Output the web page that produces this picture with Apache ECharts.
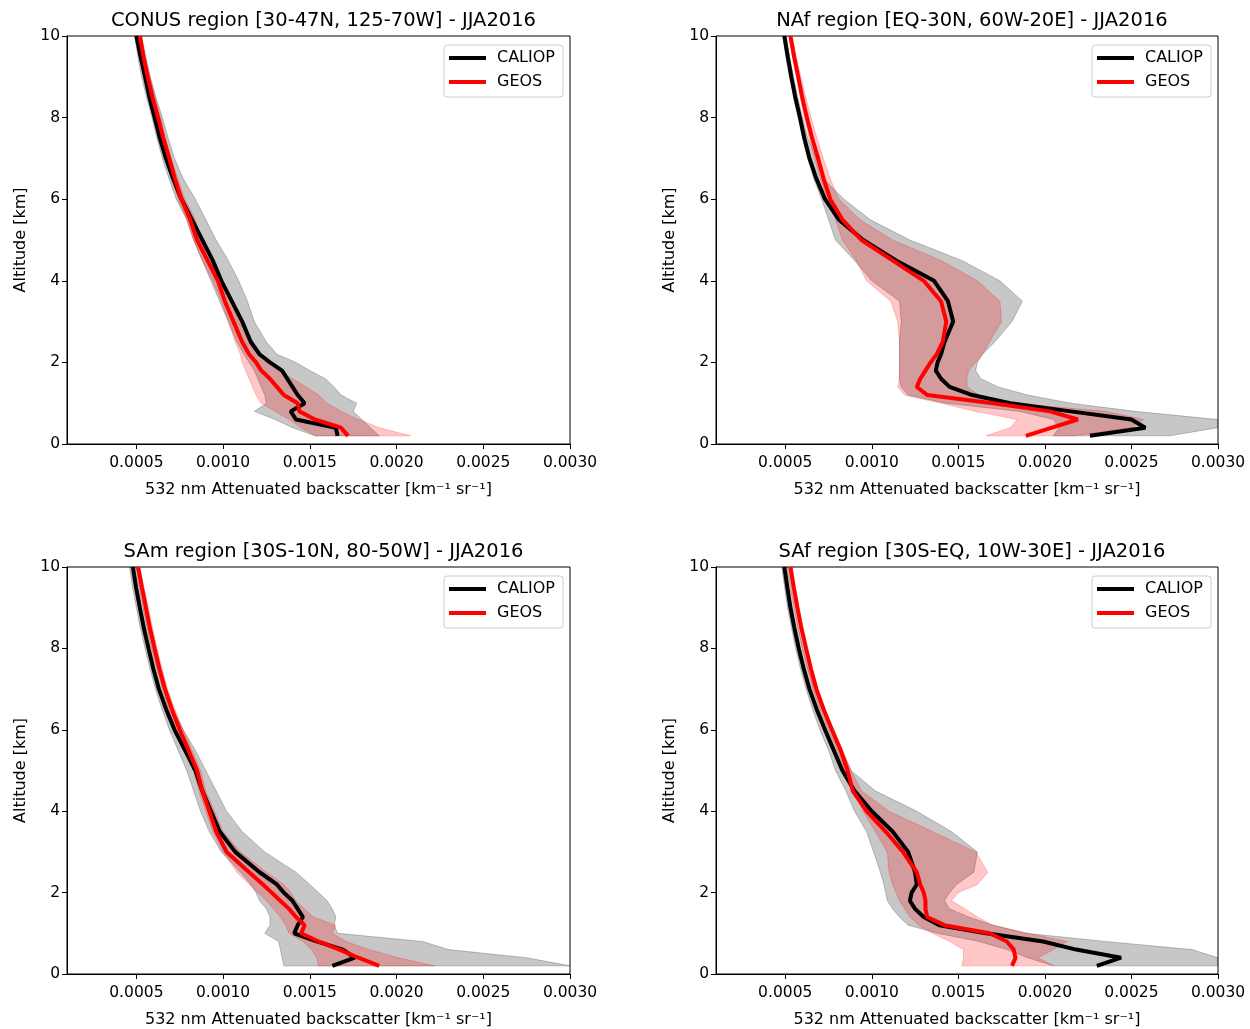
<!DOCTYPE html>
<html>
<head>
<meta charset="utf-8">
<title>CALIOP vs GEOS attenuated backscatter profiles</title>
<script src="https://cdn.jsdelivr.net/npm/echarts@6/dist/echarts.min.js"></script>
<style>
  html, body { margin: 0; padding: 0; background: #fff; }
  #chart { width: 1250px; height: 1029px; }
</style>
</head>
<body>
<div id="chart"></div>
<script>
// altitude levels [km] shared by every profile
const altitude = [0.2, 0.4, 0.6, 0.8, 1.0, 1.2, 1.4, 1.6, 1.8, 2.0, 2.2, 2.5, 3.0, 3.5, 4.0, 4.5, 5.0, 5.5, 6.0, 6.5, 7.0, 7.5, 8.0, 8.5, 9.0, 9.5, 10.0];

const xTicks = [0.0005, 0.0010, 0.0015, 0.0020, 0.0025, 0.0030];
const seriesNames = ['CALIOP', 'GEOS'];
const titles = [
  'CONUS region [30-47N, 125-70W] - JJA2016',
  'NAf region [EQ-30N, 60W-20E] - JJA2016',
  'SAm region [30S-10N, 80-50W] - JJA2016',
  'SAf region [30S-EQ, 10W-30E] - JJA2016'
];

// CONUS
const conusCaliop = [0.00166, 0.00165, 0.00142, 0.00139, 0.00147, 0.00143, 0.00140, 0.00137, 0.00134, 0.00127, 0.00121, 0.00116, 0.00111, 0.00105, 0.00099, 0.00094, 0.00088, 0.00082, 0.00076, 0.000712, 0.00067, 0.000635, 0.000605, 0.000575, 0.00055, 0.000524, 0.0005];
const conusGeos = [0.00172, 0.00168, 0.00153, 0.00144, 0.00143, 0.00135, 0.00131, 0.00127, 0.00122, 0.00119, 0.00115, 0.00111, 0.00106, 0.00101, 0.00097, 0.00091, 0.00085, 0.00081, 0.00076, 0.000722, 0.00069, 0.000655, 0.000625, 0.000593, 0.000565, 0.00054, 0.00052];
const conusCaliopLow = [0.00153, 0.00140, 0.00130, 0.00118, 0.00125, 0.00124, 0.00122, 0.00120, 0.00118, 0.00115, 0.00112, 0.00108, 0.00103, 0.00098, 0.00093, 0.00088, 0.00083, 0.00079, 0.00073, 0.000688, 0.00065, 0.000618, 0.00059, 0.000558, 0.00053, 0.000508, 0.00049];
const conusCaliopHigh = [0.00190, 0.00185, 0.00180, 0.00175, 0.00177, 0.00168, 0.00164, 0.00159, 0.00150, 0.00142, 0.00131, 0.00125, 0.00118, 0.00114, 0.00109, 0.00103, 0.00096, 0.00090, 0.00084, 0.00077, 0.00072, 0.000683, 0.00065, 0.000613, 0.00058, 0.000553, 0.00053];
const conusGeosLow = [0.00153, 0.00145, 0.00138, 0.00130, 0.00122, 0.00119, 0.00117, 0.00115, 0.00113, 0.00111, 0.00110, 0.00107, 0.00103, 0.00099, 0.00094, 0.00088, 0.00083, 0.00079, 0.00074, 0.000703, 0.00067, 0.000638, 0.00061, 0.000578, 0.00055, 0.000523, 0.0005];
const conusGeosHigh = [0.00208, 0.00190, 0.00178, 0.00168, 0.00160, 0.00155, 0.00148, 0.00140, 0.00133, 0.00126, 0.00120, 0.00115, 0.00109, 0.00105, 0.00100, 0.00094, 0.00088, 0.00084, 0.00078, 0.00074, 0.0007, 0.000668, 0.00064, 0.000608, 0.000578, 0.000553, 0.00053];

// NAf
const nafCaliop = [0.00226, 0.00258, 0.00250, 0.00215, 0.00180, 0.00158, 0.00145, 0.00140, 0.00137, 0.00138, 0.00140, 0.00142, 0.00147, 0.00144, 0.00136, 0.00114, 0.00095, 0.00081, 0.00073, 0.00068, 0.00064, 0.00061, 0.000585, 0.000558, 0.000535, 0.000514, 0.000495];
const nafGeos = [0.00189, 0.00204, 0.00219, 0.00203, 0.00170, 0.00132, 0.00126, 0.00128, 0.00131, 0.00134, 0.001375, 0.00141, 0.00143, 0.00140, 0.00130, 0.00112, 0.00094, 0.00083, 0.00076, 0.000722, 0.00069, 0.000655, 0.000625, 0.000598, 0.000575, 0.000551, 0.00053];
const nafCaliopLow = [0.00205, 0.00208, 0.00205, 0.00185, 0.00143, 0.00121, 0.00117, 0.00116, 0.00116, 0.00116, 0.00116, 0.00116, 0.00117, 0.00116, 0.00100, 0.00090, 0.00079, 0.00075, 0.00071, 0.000665, 0.00063, 0.0006, 0.000575, 0.000548, 0.000525, 0.000504, 0.000485];
const nafCaliopHigh = [0.00272, 0.0030, 0.0030, 0.00252, 0.00215, 0.00190, 0.00173, 0.00163, 0.00160, 0.00161, 0.00164, 0.00171, 0.00181, 0.00187, 0.00174, 0.00152, 0.00122, 0.00099, 0.00084, 0.00072, 0.00068, 0.00063, 0.0006, 0.000572, 0.000548, 0.000525, 0.000505];
const nafGeosLow = [0.00166, 0.00180, 0.00184, 0.00160, 0.00140, 0.00119, 0.00115, 0.00116, 0.00116, 0.00116, 0.00116, 0.00116, 0.00115, 0.00111, 0.00097, 0.00091, 0.00083, 0.00079, 0.00074, 0.000703, 0.00067, 0.000638, 0.00061, 0.000586, 0.000565, 0.000541, 0.00052];
const nafGeosHigh = [0.00217, 0.00250, 0.00257, 0.00235, 0.00182, 0.00162, 0.00155, 0.00155, 0.00156, 0.00160, 0.00164, 0.00168, 0.00175, 0.00174, 0.00161, 0.00140, 0.00112, 0.00093, 0.00081, 0.00076, 0.00072, 0.000683, 0.00065, 0.000618, 0.00059, 0.000563, 0.00054];

// SAm
const samCaliop = [0.00163, 0.00176, 0.00169, 0.00154, 0.00141, 0.00143, 0.00146, 0.00143, 0.00140, 0.00135, 0.00131, 0.00121, 0.00107, 0.00098, 0.00093, 0.00088, 0.00084, 0.00078, 0.00072, 0.000672, 0.00063, 0.000598, 0.00057, 0.000543, 0.00052, 0.000498, 0.00048];
const samGeos = [0.00190, 0.00178, 0.00167, 0.00155, 0.00145, 0.00147, 0.00142, 0.00138, 0.00133, 0.00128, 0.00123, 0.00115, 0.00102, 0.00096, 0.00092, 0.00088, 0.00085, 0.00080, 0.00075, 0.000705, 0.000665, 0.000633, 0.000605, 0.000578, 0.000555, 0.000532, 0.00051];
const samCaliopLow = [0.00135, 0.00134, 0.00133, 0.00132, 0.00124, 0.00127, 0.00127, 0.00125, 0.00121, 0.00119, 0.00116, 0.00110, 0.00099, 0.00092, 0.00087, 0.00083, 0.00079, 0.00074, 0.00069, 0.000648, 0.00061, 0.000578, 0.00055, 0.000523, 0.0005, 0.000478, 0.00046];
const samCaliopHigh = [0.0030, 0.00275, 0.00230, 0.00215, 0.00166, 0.00164, 0.00165, 0.00163, 0.00160, 0.00155, 0.00150, 0.00142, 0.00124, 0.00111, 0.00102, 0.00096, 0.00090, 0.00084, 0.00077, 0.000712, 0.00066, 0.000623, 0.00059, 0.000563, 0.00054, 0.000518, 0.0005];
const samGeosLow = [0.00155, 0.00154, 0.00151, 0.00146, 0.00138, 0.00136, 0.00133, 0.00129, 0.00125, 0.00120, 0.00115, 0.00108, 0.00100, 0.00094, 0.00090, 0.00086, 0.00083, 0.00078, 0.00073, 0.000687, 0.00065, 0.000618, 0.00059, 0.000563, 0.00054, 0.000518, 0.0005];
const samGeosHigh = [0.00222, 0.00201, 0.00184, 0.00171, 0.00163, 0.00165, 0.00152, 0.00147, 0.00142, 0.00139, 0.00135, 0.00125, 0.00110, 0.00100, 0.00095, 0.00090, 0.00087, 0.00082, 0.00077, 0.000722, 0.00068, 0.000648, 0.00062, 0.000593, 0.00057, 0.000543, 0.00052];

// SAf
const safCaliop = [0.00230, 0.00244, 0.00218, 0.00199, 0.00166, 0.00139, 0.00130, 0.00125, 0.00122, 0.00123, 0.00126, 0.00125, 0.00121, 0.00112, 0.00100, 0.00090, 0.00083, 0.00078, 0.00073, 0.000682, 0.00064, 0.000607, 0.000578, 0.000553, 0.00053, 0.000512, 0.000495];
const safGeos = [0.00181, 0.00183, 0.00182, 0.00178, 0.00168, 0.00142, 0.00132, 0.00131, 0.00131, 0.00130, 0.00128, 0.00126, 0.00118, 0.00108, 0.00097, 0.00089, 0.00086, 0.00082, 0.00077, 0.000722, 0.00068, 0.000648, 0.00062, 0.000593, 0.00057, 0.000549, 0.00053];
const safCaliopLow = [0.00205, 0.00190, 0.00178, 0.00162, 0.00138, 0.00121, 0.00116, 0.00112, 0.00109, 0.00108, 0.00107, 0.00105, 0.00101, 0.00097, 0.00090, 0.00085, 0.00079, 0.00075, 0.00070, 0.000658, 0.00062, 0.000588, 0.00056, 0.000536, 0.000513, 0.000496, 0.00048];
const safCaliopHigh = [0.0030, 0.0030, 0.00285, 0.00235, 0.00189, 0.00170, 0.00156, 0.00145, 0.00142, 0.00145, 0.00149, 0.00159, 0.00161, 0.00146, 0.00126, 0.00102, 0.00088, 0.00083, 0.00077, 0.000712, 0.00067, 0.000632, 0.000602, 0.000575, 0.000552, 0.000532, 0.000512];
const safGeosLow = [0.00152, 0.00153, 0.00153, 0.00145, 0.00135, 0.00127, 0.00122, 0.00119, 0.00116, 0.00114, 0.00112, 0.00110, 0.00109, 0.00102, 0.00095, 0.00090, 0.00084, 0.00080, 0.00075, 0.0007, 0.00066, 0.00063, 0.0006, 0.000576, 0.000555, 0.000535, 0.000515];
const safGeosHigh = [0.00205, 0.00196, 0.00205, 0.00213, 0.00190, 0.00170, 0.00161, 0.00154, 0.00146, 0.00150, 0.00161, 0.00167, 0.00160, 0.00135, 0.00110, 0.00094, 0.00088, 0.00083, 0.00078, 0.00073, 0.00069, 0.000657, 0.00063, 0.000604, 0.00058, 0.00056, 0.00054];

const panels = [
  { caliop: conusCaliop, geos: conusGeos, cLow: conusCaliopLow, cHigh: conusCaliopHigh, gLow: conusGeosLow, gHigh: conusGeosHigh },
  { caliop: nafCaliop, geos: nafGeos, cLow: nafCaliopLow, cHigh: nafCaliopHigh, gLow: nafGeosLow, gHigh: nafGeosHigh },
  { caliop: samCaliop, geos: samGeos, cLow: samCaliopLow, cHigh: samCaliopHigh, gLow: samGeosLow, gHigh: samGeosHigh },
  { caliop: safCaliop, geos: safGeos, cLow: safCaliopLow, cHigh: safCaliopHigh, gLow: safGeosLow, gHigh: safGeosHigh }
];

// panel boxes in pixels
const boxes = [
  { left: 67, top: 36, width: 503, height: 408 },
  { left: 716, top: 36, width: 502, height: 408 },
  { left: 67, top: 567, width: 503, height: 407 },
  { left: 716, top: 567, width: 502, height: 407 }
];

const font = 'DejaVu Sans';
const grayFill = 'rgba(0, 0, 0, 0.22)';
const redFill = 'rgba(255, 0, 0, 0.22)';

// shaded spread between low and high, drawn once as a polygon
function bandItem(low, high, color) {
  return function (params, api) {
    if (params.dataIndex !== 0) return null;
    const pts = [];
    for (let k = 0; k < altitude.length; k++) pts.push(api.coord([low[k], altitude[k]]));
    for (let k = altitude.length - 1; k >= 0; k--) pts.push(api.coord([high[k], altitude[k]]));
    return {
      type: 'polygon',
      shape: { points: pts },
      style: { fill: color, stroke: color, lineWidth: 1 }
    };
  };
}

const option = {
  animation: false,
  backgroundColor: '#fff',
  textStyle: { fontFamily: font },
  title: [],
  legend: [],
  grid: [],
  xAxis: [],
  yAxis: [],
  series: []
};

panels.forEach((p, i) => {
  const b = boxes[i];
  option.title.push({
    text: titles[i],
    left: b.left + b.width / 2,
    top: b.top - 30,
    textAlign: 'center',
    textStyle: { fontFamily: font, fontSize: 19.5, fontWeight: 'normal', color: '#000' }
  });
  option.grid.push({
    left: b.left, top: b.top, width: b.width, height: b.height,
    show: true, borderColor: '#000', borderWidth: 1, backgroundColor: 'transparent'
  });
  option.legend.push({
    data: seriesNames,
    orient: 'vertical',
    left: b.left + b.width - 126,
    top: b.top + 9,
    icon: 'rect',
    itemWidth: 37,
    itemHeight: 4,
    itemGap: 8,
    padding: [5, 8, 7, 5],
    backgroundColor: '#fff',
    borderColor: '#ccc',
    borderWidth: 1,
    borderRadius: 3,
    selectedMode: false,
    textStyle: { fontFamily: font, fontSize: 16, color: '#000', padding: [0, 0, 0, 6] }
  });
  option.xAxis.push({
    type: 'value',
    gridIndex: i,
    min: 0.0001,
    max: 0.003,
    name: '532 nm Attenuated backscatter [km\u207B\u00B9 sr\u207B\u00B9]',
    nameLocation: 'middle',
    nameGap: 38,
    nameTextStyle: { fontFamily: font, fontSize: 16, color: '#000' },
    axisLine: { lineStyle: { color: '#000', width: 1 } },
    axisTick: { customValues: xTicks, length: 5, lineStyle: { color: '#000' } },
    axisLabel: {
      customValues: xTicks,
      formatter: v => v.toFixed(4),
      fontFamily: font, fontSize: 15.5, color: '#000', margin: 11
    },
    splitLine: { show: false }
  });
  option.yAxis.push({
    type: 'value',
    gridIndex: i,
    min: 0,
    max: 10,
    interval: 2,
    name: 'Altitude [km]',
    nameLocation: 'middle',
    nameGap: 38,
    nameRotate: 90,
    nameTextStyle: { fontFamily: font, fontSize: 16, color: '#000' },
    axisLine: { lineStyle: { color: '#000', width: 1 } },
    axisTick: { length: 5, lineStyle: { color: '#000' } },
    axisLabel: { fontFamily: font, fontSize: 15.5, color: '#000', margin: 7 },
    splitLine: { show: false }
  });

  option.series.push({
    type: 'custom',
    xAxisIndex: i, yAxisIndex: i,
    silent: true,
    clip: true,
    renderItem: bandItem(p.cLow, p.cHigh, grayFill),
    data: altitude.map((a, k) => [p.cLow[k], a, p.cHigh[k]]),
    encode: { x: [0, 2], y: 1 },
    z: 1
  });
  option.series.push({
    type: 'custom',
    xAxisIndex: i, yAxisIndex: i,
    silent: true,
    clip: true,
    renderItem: bandItem(p.gLow, p.gHigh, redFill),
    data: altitude.map((a, k) => [p.gLow[k], a, p.gHigh[k]]),
    encode: { x: [0, 2], y: 1 },
    z: 2
  });
  option.series.push({
    name: 'CALIOP',
    type: 'line',
    xAxisIndex: i, yAxisIndex: i,
    data: altitude.map((a, k) => [p.caliop[k], a]),
    showSymbol: false,
    color: '#000',
    lineStyle: { color: '#000', width: 4 },
    z: 3
  });
  option.series.push({
    name: 'GEOS',
    type: 'line',
    xAxisIndex: i, yAxisIndex: i,
    data: altitude.map((a, k) => [p.geos[k], a]),
    showSymbol: false,
    color: '#f00',
    lineStyle: { color: '#f00', width: 4 },
    z: 4
  });
});

const chart = echarts.init(document.getElementById('chart'));
chart.setOption(option);
window.addEventListener('resize', () => chart.resize());
</script>
</body>
</html>
